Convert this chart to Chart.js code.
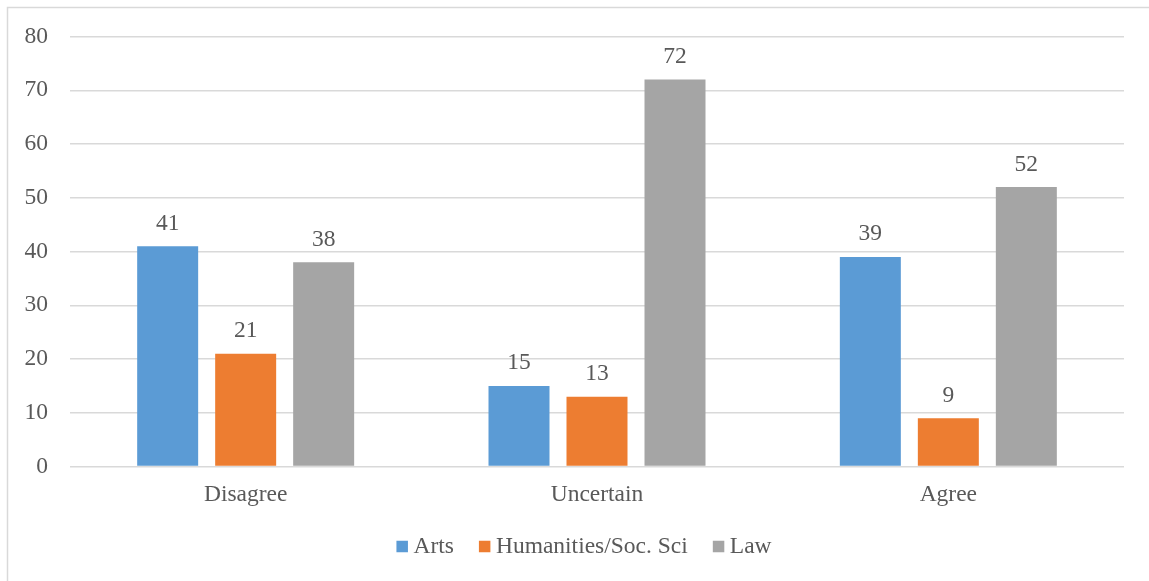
<!DOCTYPE html>
<html>
<head>
<meta charset="utf-8">
<script src="https://cdn.jsdelivr.net/npm/chart.js@4.4.1/dist/chart.umd.min.js"></script>
<style>
  html, body { margin: 0; padding: 0; background: #ffffff; }
  canvas { display: block; }
</style>
</head>
<body>
<canvas id="c" width="1149" height="581"></canvas>
<script>
const categories = ["Disagree", "Uncertain", "Agree"];
const seriesNames = ["Arts", "Humanities/Soc. Sci", "Law"];
const artsValues = [41, 15, 39];
const humanitiesValues = [21, 13, 9];
const lawValues = [38, 72, 52];
const yTicks = [0, 10, 20, 30, 40, 50, 60, 70, 80];

const colors = ["#5B9BD5", "#ED7D31", "#A5A5A5"];
const textColor = "#595959";
const fontFamily = "'Liberation Serif', 'Times New Roman', serif";
const fontSize = 23.5;

const borderPlugin = {
  id: 'outerBorder',
  beforeDraw(chart) {
    const ctx = chart.ctx;
    ctx.save();
    ctx.strokeStyle = '#d9d9d9';
    ctx.lineWidth = 1.5;
    ctx.beginPath();
    ctx.moveTo(7.5, chart.height);
    ctx.lineTo(7.5, 7.5);
    ctx.lineTo(chart.width, 7.5);
    ctx.stroke();
    ctx.restore();
  }
};

const valueLabelPlugin = {
  id: 'valueLabels',
  afterDatasetsDraw(chart) {
    const ctx = chart.ctx;
    ctx.save();
    ctx.fillStyle = textColor;
    ctx.font = fontSize + 'px ' + fontFamily;
    ctx.textAlign = 'center';
    ctx.textBaseline = 'alphabetic';
    chart.data.datasets.forEach((ds, di) => {
      const meta = chart.getDatasetMeta(di);
      meta.data.forEach((el, i) => {
        ctx.fillText(String(ds.data[i]), el.x, el.y - 16.5);
      });
    });
    ctx.restore();
  }
};

const legendPlugin = {
  id: 'customLegend',
  afterDraw(chart) {
    const ctx = chart.ctx;
    ctx.save();
    ctx.font = fontSize + 'px ' + fontFamily;
    const box = 11.5, gap = 5.5, itemGap = 25;
    const items = chart.data.datasets.map(ds => ({
      label: ds.label, color: ds.backgroundColor, w: ctx.measureText(ds.label).width
    }));
    let total = 0;
    items.forEach((it, i) => { total += box + gap + it.w + (i ? itemGap : 0); });
    const centerX = 584;
    const cy = 546.5;
    let x = centerX - total / 2;
    ctx.textBaseline = 'alphabetic';
    ctx.textAlign = 'left';
    items.forEach(it => {
      ctx.fillStyle = it.color;
      ctx.fillRect(x, cy - box / 2, box, box);
      x += box + gap;
      ctx.fillStyle = textColor;
      ctx.fillText(it.label, x, 553.3);
      x += it.w + itemGap;
    });
    ctx.restore();
  }
};

const seriesValues = [artsValues, humanitiesValues, lawValues];

new Chart(document.getElementById('c'), {
  type: 'bar',
  data: {
    labels: categories,
    datasets: seriesNames.map((name, i) => ({
      label: name,
      data: seriesValues[i],
      backgroundColor: colors[i],
      borderWidth: 0,
      categoryPercentage: 0.666,
      barPercentage: 0.782
    }))
  },
  options: {
    responsive: false,
    animation: false,
    devicePixelRatio: 1,
    layout: { padding: { left: 0, right: 25, top: 36.5, bottom: 64.5 } },
    plugins: {
      legend: { display: false },
      tooltip: { enabled: false }
    },
    scales: {
      x: {
        grid: { display: false, drawTicks: false },
        border: { display: false },
        ticks: {
          color: textColor,
          font: { family: fontFamily, size: fontSize },
          padding: 14,
          maxRotation: 0
        },
        afterFit(scale) { scale.height = 50; }
      },
      y: {
        min: 0,
        max: 80,
        grid: { color: '#d9d9d9', lineWidth: 1.5, drawTicks: false },
        border: { display: false },
        afterBuildTicks(scale) { scale.ticks = yTicks.map(v => ({ value: v })); },
        ticks: {
          color: textColor,
          font: { family: fontFamily, size: fontSize },
          padding: 22
        },
        afterFit(scale) { scale.width = 70; }
      }
    }
  },
  plugins: [borderPlugin, valueLabelPlugin, legendPlugin]
});
</script>
</body>
</html>
